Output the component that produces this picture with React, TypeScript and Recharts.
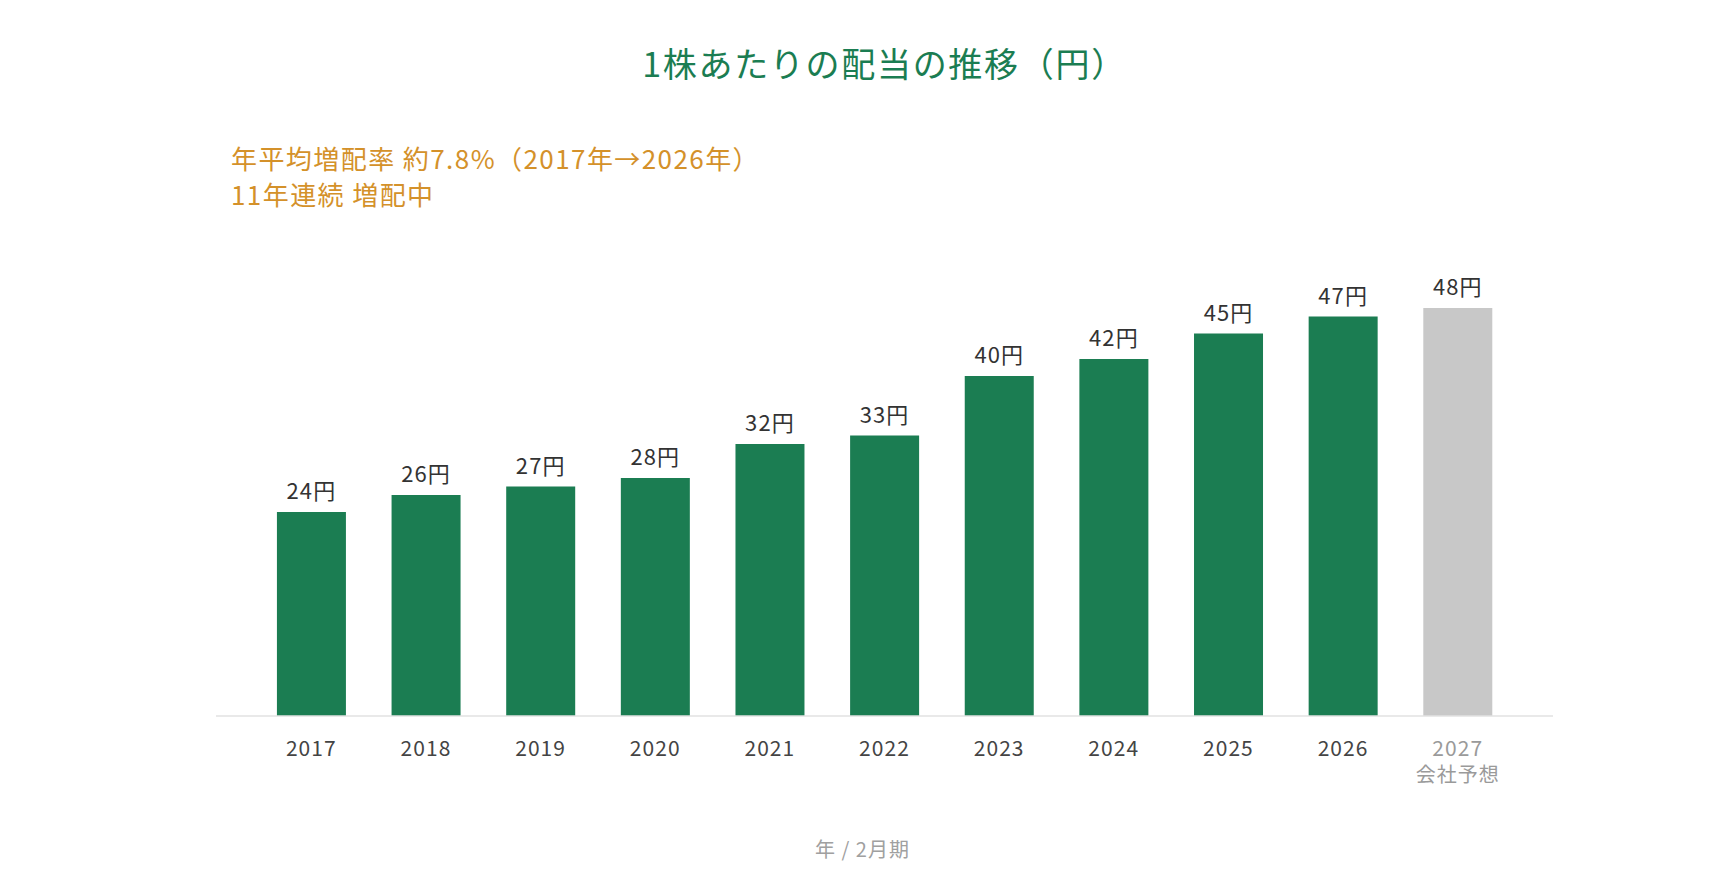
import React from 'react';
import { BarChart, Bar, XAxis, YAxis, Cell, LabelList } from 'recharts';

const years = ['2017', '2018', '2019', '2020', '2021', '2022', '2023', '2024', '2025', '2026', '2027'];
const dividends = [24, 26, 27, 28, 32, 33, 40, 42, 45, 47, 48];
const forecastFlags = [false, false, false, false, false, false, false, false, false, false, true];
const forecastNote = '会社予想';

const titleText = '1株あたりの配当の推移（円）';
const subtitleLines = ['年平均増配率 約7.8%（2017年→2026年）', '11年連続 増配中'];
const footerText = '年 / 2月期';

const FONT = '"Noto Sans CJK JP", "Noto Sans", sans-serif';
const GREEN = '#1b7d52';
const GRAY_BAR = '#c8c8c8';
const ORANGE = '#d4912a';

const data = years.map((y, i) => ({ year: y, value: dividends[i], forecast: forecastFlags[i] }));

const YearTick = (props: any) => {
  const { x, y, payload } = props;
  const idx = years.indexOf(payload.value);
  const isForecast = idx >= 0 && forecastFlags[idx];
  const color = isForecast ? '#9a9a9a' : '#444444';
  return (
    <g>
      <text x={x} y={y} dy={40} textAnchor="middle" fill={color} fontSize={21} fontFamily={FONT} letterSpacing={1.05}>
        {payload.value}
      </text>
      {isForecast && (
        <text x={x} y={y} dy={66} textAnchor="middle" fill={color} fontSize={20} fontFamily={FONT} letterSpacing={1}>
          {forecastNote}
        </text>
      )}
    </g>
  );
};

const renderValueLabel = (props: any) => {
  const { x, y, width, value } = props;
  return (
    <text
      x={x + width / 2}
      y={y - 13}
      textAnchor="middle"
      fill="#333333"
      fontSize={22}
      fontFamily={FONT}
      letterSpacing={1.1}
    >
      {value}円
    </text>
  );
};

export default function App() {
  return (
    <div style={{ position: 'absolute', left: 0, top: 0, width: 1725, height: 885, background: '#ffffff', fontFamily: FONT }}>
      <div
        style={{
          position: 'absolute',
          left: 216,
          width: 1337,
          top: 40,
          textAlign: 'center',
          color: GREEN,
          fontSize: 34,
          lineHeight: '46px',
          letterSpacing: '0.05em',
          whiteSpace: 'nowrap',
        }}
      >
        {titleText}
      </div>
      <div
        style={{
          position: 'absolute',
          left: 231,
          top: 140,
          color: ORANGE,
          fontSize: 26,
          lineHeight: '35.5px',
          letterSpacing: '0.055em',
          whiteSpace: 'nowrap',
        }}
      >
        {subtitleLines.map((l) => (
          <div key={l}>{l}</div>
        ))}
      </div>
      <div
        style={{
          position: 'absolute',
          left: 0,
          width: 1725,
          top: 836,
          textAlign: 'center',
          color: '#a0a0a0',
          fontSize: 20,
          lineHeight: '26px',
          letterSpacing: '0.05em',
        }}
      >
        {footerText}
      </div>
      <div style={{ position: 'absolute', left: 0, top: 0 }}>
        <BarChart
          width={1725}
          height={885}
          data={data}
          margin={{ top: 206, right: 172, bottom: 109, left: 216 }}
          barCategoryGap="20%"
        >
          <YAxis hide domain={[0, 60]} />
          <XAxis
            dataKey="year"
            height={60}
            padding={{ left: 38, right: 38 }}
            axisLine={{ stroke: '#e2e2e2', strokeWidth: 1.5 }}
            tickLine={false}
            tickSize={0}
            tickMargin={0}
            interval={0}
            tick={<YearTick />}
          />
          <Bar dataKey="value" isAnimationActive={false}>
            {data.map((d) => (
              <Cell key={d.year} fill={d.forecast ? GRAY_BAR : GREEN} />
            ))}
            <LabelList dataKey="value" content={renderValueLabel} />
          </Bar>
        </BarChart>
      </div>
    </div>
  );
}
